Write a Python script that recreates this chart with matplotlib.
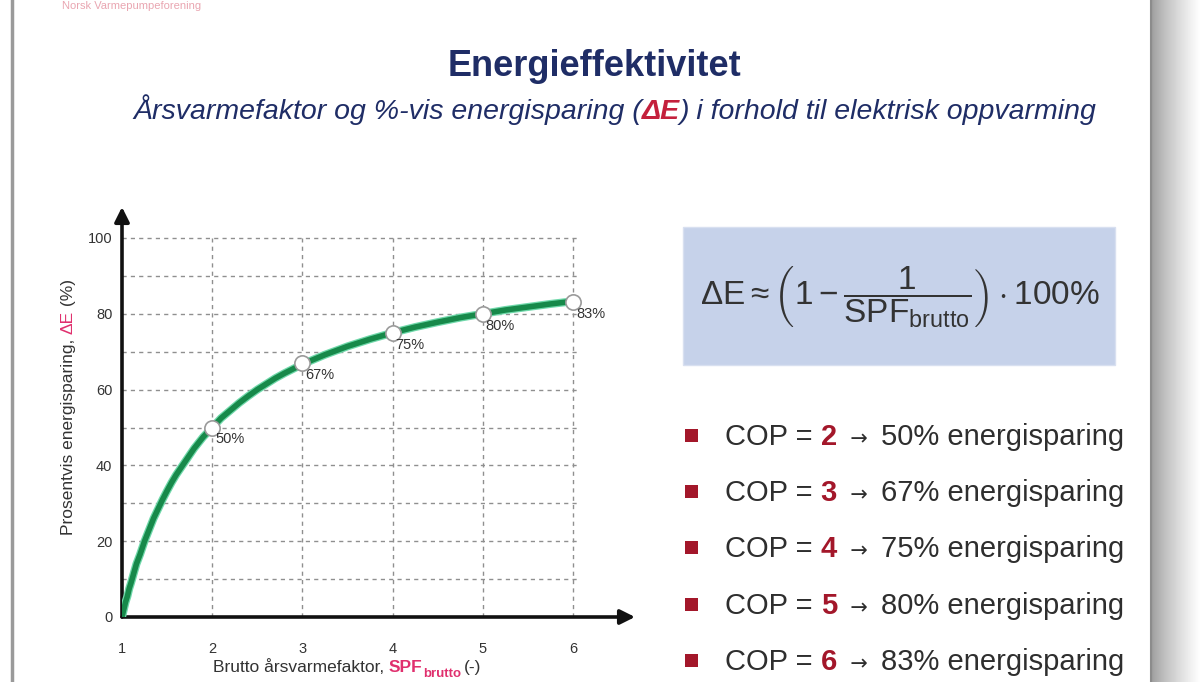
import numpy as np
import matplotlib
matplotlib.use("Agg")
import matplotlib.pyplot as plt
from matplotlib.patches import Rectangle

plt.rcParams['font.family'] = ['Liberation Sans', 'DejaVu Sans']
plt.rcParams['mathtext.fontset'] = 'custom'
plt.rcParams['mathtext.rm'] = 'Liberation Sans'
plt.rcParams['mathtext.it'] = 'Liberation Sans:italic'
plt.rcParams['mathtext.bf'] = 'Liberation Sans:bold'

# Data
spf_points = [2, 3, 4, 5, 6]
saving_points = [50, 67, 75, 80, 83]
point_labels = ["50%", "67%", "75%", "80%", "83%"]

curve_x = [1.0, 1.02, 1.04, 1.06, 1.08, 1.1, 1.13, 1.16, 1.2, 1.25, 1.3, 1.35,
           1.4, 1.45, 1.5, 1.55, 1.6, 1.7, 1.8, 1.9, 2.0, 2.1, 2.2, 2.3, 2.4,
           2.5, 2.6, 2.7, 2.8, 2.9, 3.0, 3.25, 3.5, 3.75, 4.0, 4.25, 4.5,
           4.75, 5.0, 5.25, 5.5, 5.75, 6.0]
curve_y = [0, 2, 4, 5.5, 7.5, 9, 11.5, 14, 16.5, 20, 23, 26,
           28.5, 31, 33.3, 35.5, 37.5, 41, 44.5, 47.5, 50, 52.5, 54.5, 56.5, 58.3,
           60, 61.5, 63, 64.3, 65.5, 66.7, 69.2, 71.4, 73.3, 75, 76.5, 77.8,
           79, 80, 81, 81.8, 82.6, 83.3]

x_ticks = [1, 2, 3, 4, 5, 6]
y_ticks = [0, 20, 40, 60, 80, 100]
y_grid = [10, 20, 30, 40, 50, 60, 70, 80, 90, 100]

cop_values = ["2", "3", "4", "5", "6"]
cop_savings = ["50%", "67%", "75%", "80%", "83%"]

title = "Energieffektivitet"
subtitle_parts = ["Årsvarmefaktor og %-vis energisparing (", "ΔE", ") i forhold til elektrisk oppvarming"]

NAVY = "#1f2d66"
PINK = "#e0306e"
DARKRED = "#a3172a"
TEXT = "#2e2e2e"
GREEN = "#17894a"

W, H = 1200, 682
fig = plt.figure(figsize=(12, 6.82), dpi=100)
fig.patch.set_facecolor("white")


def fx(px):
    return px / W


def fy(py):
    return 1 - py / H


# slide frame and shadow on the right
bg = fig.add_axes([0, 0, 1, 1], zorder=-10)
bg.set_xlim(0, W)
bg.set_ylim(H, 0)
bg.axis("off")
grad = np.linspace(0, 1, 50)
shade = np.tile(0.62 + 0.38 * grad ** 0.8, (10, 1))
bg.imshow(shade, cmap="gray", vmin=0, vmax=1, extent=[1152, 1200, H, 0], aspect="auto")
bg.plot([12, 12], [0, H], color="#9a9a9a", lw=2.5)
bg.plot([1151, 1151], [0, H], color="#8c8c8c", lw=1.5)
bg.text(62, 1, "Norsk Varmepumpeforening", color="#e08090", fontsize=8, va="top", ha="left", alpha=0.7)

fig.canvas.draw()
renderer = fig.canvas.get_renderer()


def place_row(x_px, y_px, parts, **common):
    """Place text pieces one after the other along a baseline."""
    x = fx(x_px)
    for txt, kw in parts:
        opts = dict(common)
        opts.update(kw)
        t = fig.text(x, fy(y_px), txt, va="baseline", ha="left", **opts)
        bb = t.get_window_extent(renderer)
        x = bb.x1 / fig.bbox.width
    return x


def place_column(x_px, y_px, parts, **common):
    """Same, but rotated 90 degrees and stacked upwards."""
    y = fy(y_px)
    for txt, kw in parts:
        opts = dict(common)
        opts.update(kw)
        t = fig.text(fx(x_px), y, txt, va="center", ha="left", rotation=90,
                     rotation_mode="anchor", **opts)
        bb = t.get_window_extent(renderer)
        y = bb.y1 / fig.bbox.height
    return y


# titles
fig.text(fx(594), fy(66), title, fontsize=26, fontweight="bold", color=NAVY,
         ha="center", va="center")
place_row(133, 119, [(subtitle_parts[0], dict(color=NAVY)),
                     (subtitle_parts[1], dict(color="#c4203c", fontweight="bold")),
                     (subtitle_parts[2], dict(color=NAVY))],
          fontsize=20.5, style="italic")

# chart
x0, x1 = 122, 635
y0, y1 = 617, 207
ax = fig.add_axes([fx(x0), fy(y0), (x1 - x0) / W, (y0 - y1) / H])
unit_x = (573 - 122) / 5
unit_y = (617 - 238) / 100
ax.set_xlim(1, 1 + (x1 - x0) / unit_x)
ax.set_ylim(0, (y0 - y1) / unit_y)
ax.set_facecolor("none")
for s in ax.spines.values():
    s.set_visible(False)

ax.hlines(y_grid, 1, 6.05, colors="#8f8f8f", linestyles=(0, (3, 3)), lw=1)
ax.vlines(x_ticks[1:], 0, 100, colors="#8f8f8f", linestyles=(0, (3, 3)), lw=1)

ax.annotate("", xy=(ax.get_xlim()[1], 0), xytext=(1, 0),
            arrowprops=dict(arrowstyle="-|>", lw=2.6, color="#111111", mutation_scale=22,
                            shrinkA=0, shrinkB=0), annotation_clip=False)
ax.annotate("", xy=(1, ax.get_ylim()[1]), xytext=(1, 0),
            arrowprops=dict(arrowstyle="-|>", lw=2.6, color="#111111", mutation_scale=22,
                            shrinkA=0, shrinkB=0), annotation_clip=False)

ax.plot(curve_x, curve_y, color="#6fd8aa", lw=5.8, solid_capstyle="round",
        solid_joinstyle="round", zorder=3)
ax.plot(curve_x, curve_y, color=GREEN, lw=4.0, solid_capstyle="round",
        solid_joinstyle="round", zorder=3)
ax.plot(spf_points, saving_points, "o", ms=11, mfc="white", mec="#9a9a9a", mew=1.2, zorder=4)
for xv, yv, lab in zip(spf_points, saving_points, point_labels):
    ax.annotate(lab, (xv, yv), xytext=(3, -5), textcoords="offset pixels",
                ha="left", va="top", fontsize=10.5, color="#333333", zorder=5)

ax.set_xticks(x_ticks)
ax.set_yticks(y_ticks)
ax.tick_params(length=0, labelsize=10.5, labelcolor="#333333")
ax.tick_params(axis="x", pad=18)
ax.tick_params(axis="y", pad=7)

# axis labels
xl = place_row(213, 672, [("Brutto årsvarmefaktor, ", dict(color="#333333")),
                          ("SPF", dict(color=PINK, fontweight="bold"))], fontsize=12.5)
t = fig.text(xl, fy(677), "brutto", color=PINK, fontweight="bold", fontsize=9.5,
             ha="left", va="baseline")
bb = t.get_window_extent(renderer)
fig.text(bb.x1 / fig.bbox.width + 0.003, fy(672), "(-)", color="#333333", fontsize=12.5,
         ha="left", va="baseline")

place_column(68, 535, [("Prosentvis energisparing, ", dict(color="#333333")),
                       ("ΔE", dict(color=PINK)),
                       (" (%)", dict(color="#333333"))], fontsize=12.5)

# formula box
bg.add_patch(Rectangle((683, 227), 432, 138, facecolor="#c6d2ea", edgecolor="#d8e0f0", lw=1))
fig.text(fx(900), fy(297),
         r"$\Delta\mathrm{E} \approx \left(1-\dfrac{1}{\mathrm{SPF}_{\mathrm{brutto}}}\right)\cdot 100\%$",
         fontsize=24, color="#333333", ha="center", va="center")

# bullet list
rows_y = [436, 492, 548, 605, 661]
for yv, cop, sav in zip(rows_y, cop_values, cop_savings):
    bg.add_patch(Rectangle((685, yv - 7), 13, 13, facecolor=DARKRED, edgecolor="none"))
    place_row(725, yv + 9, [("COP = ", dict(color=TEXT)),
                            (cop, dict(color=DARKRED, fontweight="bold")),
                            ("  →  ", dict(color=TEXT, family=["DejaVu Sans"], fontsize=15)),
                            (sav + " energisparing", dict(color=TEXT))],
              fontsize=21)

fig.savefig("out.png", dpi=100, facecolor="white")
